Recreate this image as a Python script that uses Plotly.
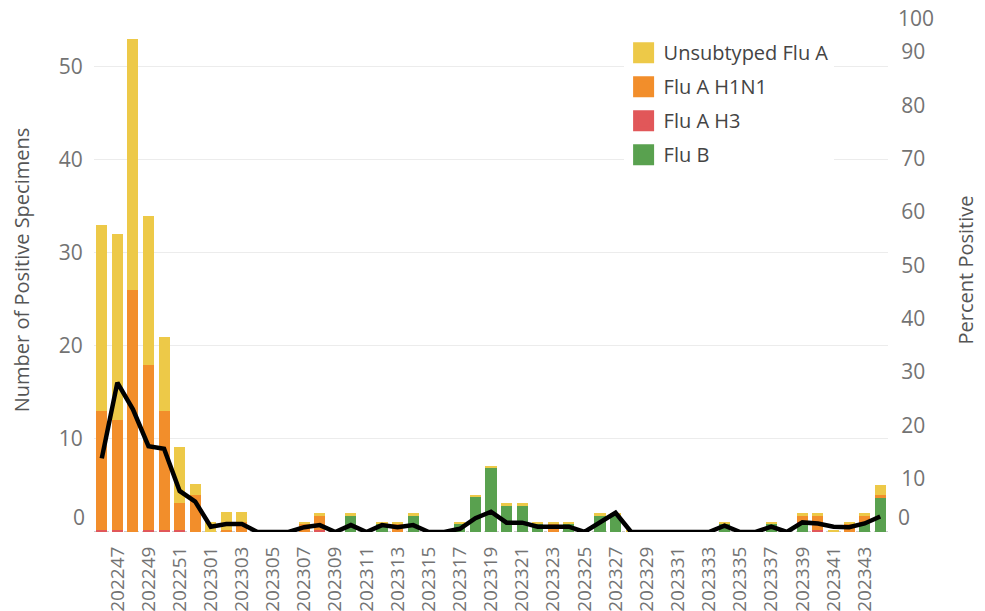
import plotly.graph_objects as go

weeks = ["202246", "202247", "202248", "202249", "202250", "202251", "202252",
         "202301", "202302", "202303", "202304", "202305", "202306", "202307",
         "202308", "202309", "202310", "202311", "202312", "202313", "202314",
         "202315", "202316", "202317", "202318", "202319", "202320", "202321",
         "202322", "202323", "202324", "202325", "202326", "202327", "202328",
         "202329", "202330", "202331", "202332", "202333", "202334", "202335",
         "202336", "202337", "202338", "202339", "202340", "202341", "202342",
         "202343", "202344"]

flu_b = [0, 0, 0, 0, 0, 0, 0,
         0, 0, 0, 0, 0, 0, 0,
         0, 0, 1.8, 0, 0.9, 0, 1.8,
         0, 0, 0.9, 3.8, 6.9, 2.9, 2.9,
         0.9, 0, 0.9, 0, 1.8, 1.8, 0,
         0, 0, 0, 0, 0, 0.9, 0,
         0, 0.9, 0, 0.9, 0, 0, 0,
         0.9, 3.7]

flu_a_h3 = [0.2, 0.2, 0, 0.2, 0.2, 0.2, 0,
            0, 0, 0, 0, 0, 0, 0,
            0.2, 0, 0, 0, 0, 0, 0,
            0, 0, 0, 0, 0, 0, 0,
            0, 0, 0, 0, 0, 0, 0,
            0, 0, 0, 0, 0, 0, 0,
            0, 0, 0, 0.2, 0.2, 0, 0,
            0.2, 0]

flu_a_h1n1 = [12.8, 11.8, 26, 17.8, 12.8, 2.9, 4,
              0, 0.2, 1.1, 0, 0, 0, 0.9,
              1.6, 0, 0, 0, 0, 0.9, 0,
              0, 0, 0, 0, 0, 0, 0,
              0, 0.9, 0, 0, 0, 0, 0,
              0, 0, 0, 0, 0, 0, 0,
              0, 0, 0, 0.7, 1.6, 0, 0.9,
              0.7, 0.3]

unsubtyped = [20, 20, 27, 16, 8, 6, 1.2,
              1.1, 1.9, 1.0, 0, 0, 0, 0.2,
              0.2, 0, 0.2, 0, 0.2, 0.2, 0.2,
              0, 0, 0.2, 0.2, 0.2, 0.2, 0.2,
              0.2, 0.2, 0.2, 0, 0.2, 0.2, 0.2,
              0, 0, 0, 0, 0, 0.2, 0,
              0, 0.2, 0, 0.2, 0.2, 0.2, 0.2,
              0.2, 1.1]

percent_positive = [13.8, 28.0, 23.0, 16.1, 15.6, 7.7, 5.7,
                    1.0, 1.5, 1.5, 0, 0, 0, 0.9,
                    1.3, 0, 1.3, 0, 1.3, 0.9, 1.3,
                    0, 0, 0.6, 2.6, 3.8, 1.75, 1.75,
                    1.0, 1.0, 1.0, 0, 1.9, 3.6, 0,
                    0, 0, 0, 0, 0, 1.2, 0,
                    0, 1.0, 0, 1.8, 1.6, 1.0, 0.9,
                    1.6, 2.9]

series_names = ["Unsubtyped Flu A", "Flu A H1N1", "Flu A H3", "Flu B"]
series_colors = ["#EDC948", "#F28E2B", "#E15759", "#59A14F"]
left_ticks = [10, 20, 30, 40, 50]
right_ticks = [10, 20, 30, 40, 50, 60, 70, 80, 90]
x_tick_labels = weeks[1::2]

TICK_COLOR = "#737373"
TICK_FONT = dict(family="Open Sans", size=21, color=TICK_COLOR)
X_TICK_FONT = dict(family="Open Sans", size=19, color=TICK_COLOR)

fig = go.Figure()

stack = [("Flu B", flu_b, "#59A14F"),
         ("Flu A H3", flu_a_h3, "#E15759"),
         ("Flu A H1N1", flu_a_h1n1, "#F28E2B"),
         ("Unsubtyped Flu A", unsubtyped, "#EDC948")]
for name, vals, col in stack:
    fig.add_trace(go.Bar(x=weeks, y=vals, name=name, marker_color=col,
                         marker_line_width=0, showlegend=False))

fig.add_trace(go.Scatter(x=weeks, y=percent_positive, yaxis="y2", mode="lines",
                         line=dict(color="black", width=4.5), showlegend=False,
                         name="Percent Positive"))

# legend entries (larger square swatches)
for i, (name, col) in enumerate(zip(series_names, series_colors)):
    fig.add_trace(go.Scatter(x=[None], y=[None], mode="markers", name=name,
                             legendgroup="g%d" % i,
                             marker=dict(symbol="square", size=16, color=col,
                                         line=dict(color=col, width=5))))

fig.add_shape(type="line", xref="paper", x0=0, x1=1, yref="y", y0=0, y1=0,
              line=dict(color="#cccccc", width=2, dash="dot"), layer="below")

# end labels that sit inside the axis range
fig.add_annotation(text="0", xref="paper", x=0, yref="y", y=0, xanchor="right",
                   yanchor="middle", xshift=-7, yshift=15, showarrow=False,
                   font=TICK_FONT)
fig.add_annotation(text="0", xref="paper", x=1, yref="y2", y=0, xanchor="left",
                   yanchor="middle", xshift=8, yshift=15, showarrow=False,
                   font=TICK_FONT)
fig.add_annotation(text="100", xref="paper", x=1, yref="paper", y=1, xanchor="left",
                   yanchor="middle", xshift=8, yshift=-10, showarrow=False,
                   font=TICK_FONT)

fig.update_layout(
    width=985, height=611,
    margin=dict(l=86, r=105, t=0, b=87, autoexpand=False),
    barmode="stack", bargap=0.29,
    plot_bgcolor="white", paper_bgcolor="white",
    font=dict(family="Open Sans"),
    xaxis=dict(type="category", categoryorder="array", categoryarray=weeks,
               tickmode="array", tickvals=x_tick_labels, ticktext=x_tick_labels,
               tickangle=-90, tickfont=X_TICK_FONT, ticks="outside", ticklen=6,
               tickcolor="rgba(0,0,0,0)", showgrid=False, zeroline=False,
               showline=False, automargin=False),
    yaxis=dict(range=[0, 56.34], tickmode="array", tickvals=left_ticks,
               tickfont=TICK_FONT, ticks="outside", ticklen=6,
               tickcolor="rgba(0,0,0,0)", showgrid=True, gridcolor="#ececec",
               gridwidth=1, zeroline=False, automargin=False,
               title=dict(text="Number of Positive Specimens",
                          font=dict(size=20, color="#555555"), standoff=32)),
    yaxis2=dict(range=[0, 98.25], overlaying="y", side="right", tickmode="array",
                tickvals=right_ticks, tickfont=TICK_FONT, ticks="outside",
                ticklen=8, tickcolor="rgba(0,0,0,0)", showgrid=False,
                zeroline=False, automargin=False,
                title=dict(text="Percent Positive",
                           font=dict(size=20, color="#555555"), standoff=34)),
    legend=dict(x=0.667, xanchor="left", y=0.952, yanchor="top",
                bgcolor="white", font=dict(size=20, color="#444444"),
                tracegroupgap=5, itemclick=False),
)

fig.write_html("out.html")
